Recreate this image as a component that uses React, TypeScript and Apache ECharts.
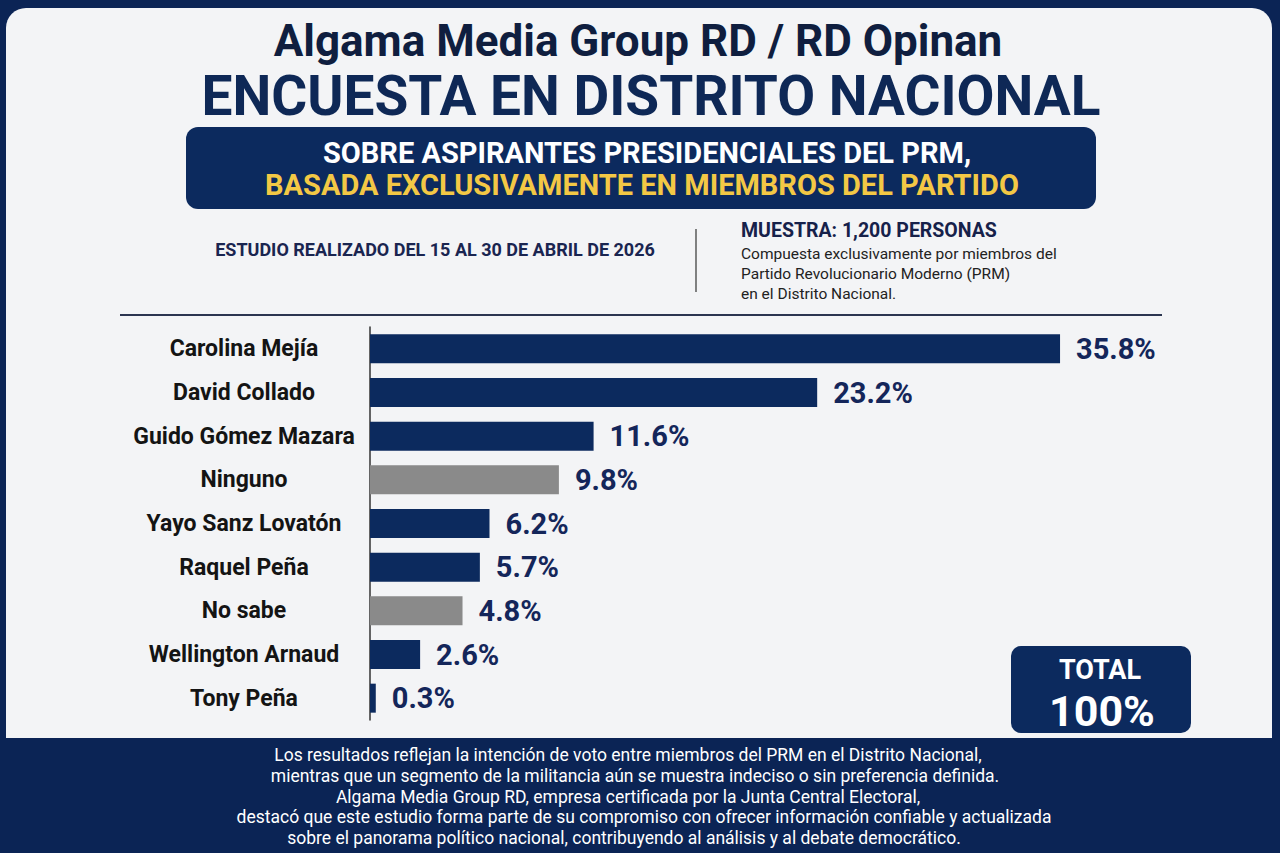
import React, { useEffect, useRef } from "react";
import * as echarts from "echarts";

const categories = [
  "Carolina Mejía",
  "David Collado",
  "Guido Gómez Mazara",
  "Ninguno",
  "Yayo Sanz Lovatón",
  "Raquel Peña",
  "No sabe",
  "Wellington Arnaud",
  "Tony Peña",
];
const values = [35.8, 23.2, 11.6, 9.8, 6.2, 5.7, 4.8, 2.6, 0.3];
const grayCategories = ["Ninguno", "No sabe"];

const titleLine1 = "Algama Media Group RD / RD Opinan";
const titleLine2 = "ENCUESTA EN DISTRITO NACIONAL";
const bannerLine1 = "SOBRE ASPIRANTES PRESIDENCIALES DEL PRM,";
const bannerLine2 = "BASADA EXCLUSIVAMENTE EN MIEMBROS DEL PARTIDO";
const studyText = "ESTUDIO REALIZADO DEL 15 AL 30 DE ABRIL DE 2026";
const sampleTitle = "MUESTRA: 1,200 PERSONAS";
const sampleLines = [
  "Compuesta exclusivamente por miembros del",
  "Partido Revolucionario Moderno (PRM)",
  "en el Distrito Nacional.",
];
const totalLabel = "TOTAL";
const totalValue = "100%";
const footerLines = [
  "Los resultados reflejan la intención de voto entre miembros del PRM en el Distrito Nacional,",
  "mientras que un segmento de la militancia aún se muestra indeciso o sin preferencia definida.",
  "Algama Media Group RD, empresa certificada por la Junta Central Electoral,",
  "destacó que este estudio forma parte de su compromiso con ofrecer información confiable y actualizada",
  "sobre el panorama político nacional, contribuyendo al análisis y al debate democrático.",
];
const footerCenters = [628, 635, 628, 644, 624];

const NAVY = "#0c2a5e";
const BORDER = "#0b2455";
const CARD = "#f3f4f6";
const GRAY = "#8a8a8a";
const FONT = "Roboto, 'Noto Sans', sans-serif";
const NARROW = "'Liberation Sans Narrow', 'Roboto', sans-serif";

export default function App() {
  const ref = useRef<HTMLDivElement>(null);
  useEffect(() => {
    if (!ref.current) return;
    const chart = echarts.init(ref.current, undefined, { renderer: "svg" });

    const graphics: any[] = [
      {
        type: "rect",
        shape: { x: 6, y: 8, width: 1266, height: 730, r: [20, 20, 0, 0] },
        style: { fill: CARD },
        z: -10,
      },
      {
        type: "text",
        x: 638,
        y: 41,
        style: {
          text: titleLine1,
          font: `bold 44px ${FONT}`,
          lineHeight: 44,
          fill: "#0f1e3f",
          textAlign: "center",
          textVerticalAlign: "middle",
        },
      },
      {
        type: "text",
        x: 651,
        y: 96,
        style: {
          text: titleLine2,
          font: `bold 55px ${FONT}`,
          lineHeight: 55,
          fill: "#0e2856",
          textAlign: "center",
          textVerticalAlign: "middle",
        },
      },
      {
        type: "rect",
        shape: { x: 186, y: 127, width: 910, height: 82, r: 12 },
        style: { fill: NAVY },
      },
      {
        type: "text",
        x: 647,
        y: 153,
        style: {
          text: bannerLine1,
          font: `bold 29px ${FONT}`,
          fill: "#ffffff",
          textAlign: "center",
          textVerticalAlign: "middle",
        },
      },
      {
        type: "text",
        x: 642,
        y: 185,
        style: {
          text: bannerLine2,
          font: `bold 29px ${FONT}`,
          fill: "#f3c845",
          textAlign: "center",
          textVerticalAlign: "middle",
        },
      },
      {
        type: "text",
        x: 435,
        y: 249,
        style: {
          text: studyText,
          font: `bold 18px ${FONT}`,
          fill: "#1a2550",
          textAlign: "center",
          textVerticalAlign: "middle",
        },
      },
      {
        type: "line",
        shape: { x1: 696, y1: 229, x2: 696, y2: 292 },
        style: { stroke: "#333", lineWidth: 1.2 },
      },
      {
        type: "text",
        x: 741,
        y: 230,
        style: {
          text: sampleTitle,
          font: `bold 19.5px ${FONT}`,
          fill: "#16214a",
          textAlign: "left",
          textVerticalAlign: "middle",
        },
      },
      ...sampleLines.map((t, i) => ({
        type: "text",
        x: 741,
        y: 254 + i * 20,
        style: {
          text: t,
          font: `15.5px ${FONT}`,
          fill: "#222",
          textAlign: "left",
          textVerticalAlign: "middle",
        },
      })),
      {
        type: "line",
        shape: { x1: 120, y1: 315, x2: 1162, y2: 315 },
        style: { stroke: "#2b3550", lineWidth: 2 },
      },
      {
        type: "rect",
        shape: { x: 1011, y: 646, width: 180, height: 87, r: 10 },
        style: { fill: NAVY },
      },
      {
        type: "text",
        x: 1100,
        y: 670,
        style: {
          text: totalLabel,
          font: `bold 27px ${FONT}`,
          lineHeight: 27,
          fill: "#ffffff",
          textAlign: "center",
          textVerticalAlign: "middle",
        },
      },
      {
        type: "text",
        x: 1102,
        y: 711,
        style: {
          text: totalValue,
          font: `bold 43px ${FONT}`,
          lineHeight: 43,
          fill: "#ffffff",
          textAlign: "center",
          textVerticalAlign: "middle",
        },
      },
      ...footerLines.map((t, i) => ({
        type: "text",
        x: footerCenters[i],
        y: 755 + i * 20.8,
        style: {
          text: t,
          font: `17.5px ${NARROW}`,
          fill: "#ffffff",
          textAlign: "center",
          textVerticalAlign: "middle",
        },
      })),
    ];

    chart.setOption({
      animation: false,
      backgroundColor: BORDER,
      grid: { left: 370, top: 327, width: 771, height: 393, containLabel: false },
      xAxis: {
        type: "value",
        min: 0,
        max: 40,
        show: false,
        splitLine: { show: false },
      },
      yAxis: {
        type: "category",
        data: categories,
        inverse: true,
        axisLine: { show: true, lineStyle: { color: "#333", width: 1.5 } },
        axisTick: { show: false },
        axisLabel: {
          align: "center",
          margin: 126,
          fontSize: 23,
          fontWeight: "bold",
          fontFamily: FONT,
          color: "#141414",
        },
      },
      series: [
        {
          type: "bar",
          barWidth: 29,
          data: values.map((v, i) => ({
            value: v,
            itemStyle: {
              color: grayCategories.includes(categories[i]) ? GRAY : NAVY,
            },
          })),
          label: {
            show: true,
            position: "right",
            distance: 16,
            formatter: "{c}%",
            fontSize: 29,
            fontWeight: "bold",
            fontFamily: FONT,
            color: "#14265a",
          },
        },
      ],
      graphic: graphics,
    });
    return () => chart.dispose();
  }, []);
  return (
    <div
      ref={ref}
      style={{ position: "fixed", left: 0, top: 0, width: 1280, height: 853 }}
    />
  );
}
